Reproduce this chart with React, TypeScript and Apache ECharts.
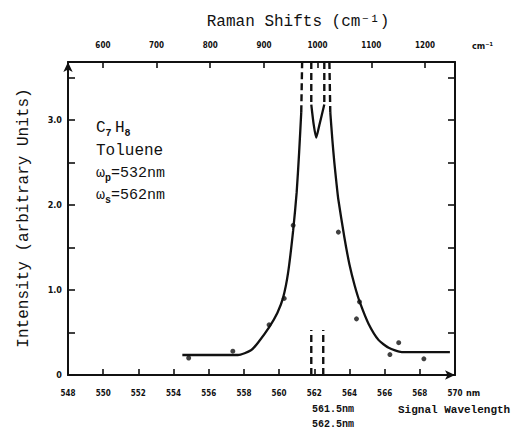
import React, { useEffect, useRef } from "react";
import * as echarts from "echarts";

// ---- data (wavelength nm, intensity a.u.) ----
const wavelengthRange = [548, 570];
const ramanRange = [535, 1256];
const ramanTicks = [600, 700, 800, 900, 1000, 1100, 1200];
const intensityMax = 3.68;

const leftSolid = [
  [554.5, 0.235], [557.66, 0.235], [558.4, 0.29], [558.8, 0.38], [559.43, 0.56],
  [559.9, 0.73], [560.23, 0.91], [560.51, 1.2], [560.8, 1.7], [561.0, 2.15],
  [561.14, 2.62], [561.26, 3.09],
];
const leftDashed = [[561.26, 3.09], [561.31, 3.68]];
const innerSolid = [
  [561.83, 3.18], [561.97, 2.94], [562.11, 2.79], [562.29, 2.94], [562.57, 3.18],
];
const innerDashedLeft = [[561.83, 3.68], [561.83, 3.18]];
const innerDashedRight = [[562.57, 3.68], [562.57, 3.18]];
const rightDashed = [[562.86, 3.68], [562.91, 3.09]];
const rightSolid = [
  [562.91, 3.09], [563.03, 2.76], [563.14, 2.5], [563.26, 2.26], [563.37, 2.06],
  [563.71, 1.62], [564.0, 1.3], [564.3, 1.05], [564.6, 0.85], [565.09, 0.6],
  [565.66, 0.41], [566.23, 0.32], [566.97, 0.27], [569.71, 0.27],
];
const markerLeft = [[561.83, 0], [561.83, 0.53]];
const markerRight = [[562.51, 0], [562.51, 0.53]];
const measured = [
  [554.86, 0.2], [557.37, 0.28], [559.43, 0.59], [560.29, 0.9], [560.8, 1.76],
  [563.37, 1.68], [564.57, 0.86], [564.4, 0.66], [566.8, 0.38], [566.3, 0.24],
  [568.23, 0.19],
];

const INK = "#111";
const MONO = "'Liberation Mono', 'DejaVu Sans Mono', monospace";
const SMALL = "'DejaVu Sans Condensed', 'DejaVu Sans', sans-serif";

function lineSeries(data: number[][], dashed: boolean) {
  return {
    type: "line",
    data,
    xAxisIndex: 0,
    yAxisIndex: 0,
    showSymbol: false,
    smooth: dashed ? false : 0.2,
    silent: true,
    lineStyle: { color: INK, width: dashed ? 2.4 : 2.3, type: dashed ? [7, 4] : "solid" },
  };
}

const tick = (len: number) => ({ show: true, inside: true, length: len, lineStyle: { color: INK, width: 1.6 } });
const line = () => ({ color: INK, width: 2 });

export default function App() {
  const ref = useRef<HTMLDivElement>(null);
  useEffect(() => {
    if (!ref.current) return;
    const chart = echarts.init(ref.current, null, { renderer: "svg" });
    chart.setOption({
      animation: false,
      backgroundColor: "#fff",
      grid: { left: 68, right: 74, top: 62, bottom: 59 },
      xAxis: [
        {
          type: "value",
          position: "bottom",
          min: wavelengthRange[0],
          max: wavelengthRange[1],
          interval: 2,
          axisLine: { show: true, onZero: false, lineStyle: line(), symbol: ["none", "arrow"], symbolSize: [7, 10] },
          axisTick: tick(6),
          axisLabel: { color: INK, fontFamily: SMALL, fontWeight: "bold", fontSize: 8, margin: 14 },
          splitLine: { show: false },
        },
        {
          type: "value",
          position: "top",
          min: ramanRange[0],
          max: ramanRange[1],
          axisLine: { show: true, onZero: false, lineStyle: line() },
          axisTick: { ...tick(6), customValues: ramanTicks },
          axisLabel: {
            color: INK, fontFamily: SMALL, fontWeight: "bold", fontSize: 8, margin: 13,
            customValues: ramanTicks,
            formatter: (v: number) => String(v),
          },
          splitLine: { show: false },
        },
      ],
      yAxis: [
        {
          type: "value",
          position: "left",
          min: 0,
          max: intensityMax,
          interval: 0.5,
          axisLine: { show: true, onZero: false, lineStyle: line(), symbol: ["none", "arrow"], symbolSize: [7, 10] },
          axisTick: tick(7),
          axisLabel: {
            color: INK, fontFamily: SMALL, fontWeight: "bold", fontSize: 9, margin: 6,
            formatter: (v: number) => (v === 0 ? "0" : Number.isInteger(v) ? v.toFixed(1) : ""),
          },
          splitLine: { show: false },
        },
        {
          type: "value",
          position: "right",
          min: 0,
          max: intensityMax,
          interval: 0.5,
          axisLine: { show: true, onZero: false, lineStyle: line() },
          axisTick: tick(7),
          axisLabel: { show: false },
          splitLine: { show: false },
        },
      ],
      series: [
        lineSeries(leftSolid, false),
        lineSeries(leftDashed, true),
        lineSeries(innerSolid, false),
        lineSeries(innerDashedLeft, true),
        lineSeries(innerDashedRight, true),
        lineSeries(rightDashed, true),
        lineSeries(rightSolid, false),
        lineSeries(markerLeft, true),
        lineSeries(markerRight, true),
        {
          type: "scatter",
          data: measured,
          xAxisIndex: 0,
          yAxisIndex: 0,
          symbol: "circle",
          symbolSize: 5,
          silent: true,
          itemStyle: { color: INK },
        },
      ],
      graphic: [
        { type: "text", x: 298, y: 22, style: { text: "Raman Shifts (cm⁻¹)", fill: INK, font: `16px ${MONO}`, align: "center", verticalAlign: "middle" } },
        { type: "text", x: 24, y: 218, rotation: Math.PI / 2, style: { text: "Intensity (arbitrary Units)", fill: INK, font: `16px ${MONO}`, align: "center", verticalAlign: "middle" } },
        { type: "text", x: 472, y: 46, style: { text: "cm⁻¹", fill: INK, font: `bold 9px ${SMALL}`, verticalAlign: "middle" } },
        { type: "text", x: 466, y: 393, style: { text: "nm", fill: INK, font: `bold 9px ${SMALL}`, verticalAlign: "middle" } },
        { type: "text", x: 312, y: 409, style: { text: "561.5nm", fill: INK, font: `bold 10px ${MONO}`, verticalAlign: "middle" } },
        { type: "text", x: 312, y: 424, style: { text: "562.5nm", fill: INK, font: `bold 10px ${MONO}`, verticalAlign: "middle" } },
        { type: "text", x: 398, y: 410, style: { text: "Signal Wavelength", fill: INK, font: `bold 11px ${MONO}`, verticalAlign: "middle" } },
        {
          type: "text", x: 96, y: 128,
          style: {
            text: "{a|C}{s|7} {a|H}{s|8}", fill: INK, verticalAlign: "middle",
            rich: {
              a: { fontFamily: MONO, fontSize: 16, lineHeight: 20, fill: INK },
              s: { fontFamily: MONO, fontSize: 10, fontWeight: "bold", lineHeight: 20, verticalAlign: "bottom", fill: INK },
            },
          },
        },
        { type: "text", x: 96, y: 151, style: { text: "Toluene", fill: INK, font: `16px ${MONO}`, verticalAlign: "middle" } },
        {
          type: "text", x: 96, y: 173,
          style: {
            text: "{a|ω}{s|p}{a|=532nm}", fill: INK, verticalAlign: "middle",
            rich: {
              a: { fontFamily: MONO, fontSize: 15, lineHeight: 20, fill: INK },
              s: { fontFamily: MONO, fontSize: 10, fontWeight: "bold", lineHeight: 20, verticalAlign: "bottom", fill: INK },
            },
          },
        },
        {
          type: "text", x: 96, y: 195,
          style: {
            text: "{a|ω}{s|s}{a|=562nm}", fill: INK, verticalAlign: "middle",
            rich: {
              a: { fontFamily: MONO, fontSize: 15, lineHeight: 20, fill: INK },
              s: { fontFamily: MONO, fontSize: 10, fontWeight: "bold", lineHeight: 20, verticalAlign: "bottom", fill: INK },
            },
          },
        },
      ],
    });
    return () => chart.dispose();
  }, []);
  return (
    <div
      ref={ref}
      style={{ position: "fixed", left: 0, top: 0, width: 529, height: 434, background: "#fff" }}
    />
  );
}
